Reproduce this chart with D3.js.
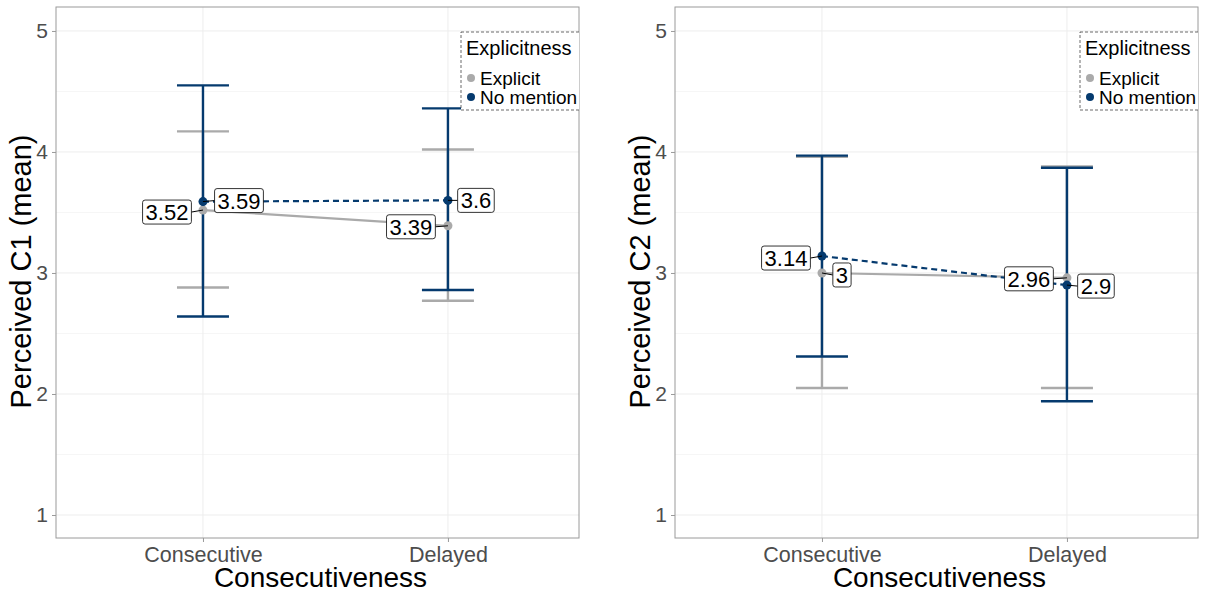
<!DOCTYPE html>
<html>
<head>
<meta charset="utf-8">
<script src="https://cdn.jsdelivr.net/npm/d3@7"></script>
<style>
  body { margin: 0; background: #fff; }
  svg { font-family: "Liberation Sans", Arial, sans-serif; }
</style>
</head>
<body>
<svg id="chart" width="1207" height="594"></svg>
<script>
// categories / groups
var categories = ["Consecutive", "Delayed"]
var groups = ["Explicit", "No mention"]
var yTicks = [1, 2, 3, 4, 5]
var panelTitles = ["Perceived C1 (mean)", "Perceived C2 (mean)"]

// C1 panel
var c1Explicit = [3.52, 3.39]
var c1ExplicitLow = [2.88, 2.77]
var c1ExplicitHigh = [4.17, 4.02]
var c1NoMention = [3.59, 3.6]
var c1NoMentionLow = [2.64, 2.86]
var c1NoMentionHigh = [4.55, 4.36]

// C2 panel
var c2Explicit = [3, 2.96]
var c2ExplicitLow = [2.05, 2.05]
var c2ExplicitHigh = [3.96, 3.88]
var c2NoMention = [3.14, 2.9]
var c2NoMentionLow = [2.31, 1.94]
var c2NoMentionHigh = [3.97, 3.87]

var colors = {"Explicit": "#aaaaaa", "No mention": "#053a6e"}

// label nudges (pixels) for the repelled labels, per panel / group / category
var labelNudge = [
  {"Explicit": [[-36, 2], [-37, 1]], "No mention": [[36, -1], [28, 0]]},
  {"Explicit": [[20, 2], [-38, 1]], "No mention": [[-36, 2], [29, 1]]}
]

var panelData = [
  {Explicit: {m: c1Explicit, lo: c1ExplicitLow, hi: c1ExplicitHigh},
   "No mention": {m: c1NoMention, lo: c1NoMentionLow, hi: c1NoMentionHigh}},
  {Explicit: {m: c2Explicit, lo: c2ExplicitLow, hi: c2ExplicitHigh},
   "No mention": {m: c2NoMention, lo: c2NoMentionLow, hi: c2NoMentionHigh}}
]

var svg = d3.select("#chart")
var panelLefts = [56, 675]
var plotTop = 7, width = 523, height = 531

var y = d3.scaleLinear().domain([0.81, 5.198]).range([height, 0])
var x = d3.scaleLinear().domain([0.4, 2.535]).range([0, width])

panelData.forEach(function(pd, pi) {
  var g = svg.append("g").attr("transform", "translate(" + panelLefts[pi] + "," + plotTop + ")")

  g.append("clipPath").attr("id", "clip" + pi)
    .append("rect").attr("x", -405).attr("y", -25).attr("width", width).attr("height", height)

  // grid
  var minor = [1.5, 2.5, 3.5, 4.5]
  g.selectAll(".minor").data(minor).enter().append("line")
    .attr("x1", 0).attr("x2", width)
    .attr("y1", function(d) { return y(d) }).attr("y2", function(d) { return y(d) })
    .attr("stroke", "#f4f4f4").attr("stroke-width", 0.8)
  g.selectAll(".major").data(yTicks).enter().append("line")
    .attr("x1", 0).attr("x2", width)
    .attr("y1", function(d) { return y(d) }).attr("y2", function(d) { return y(d) })
    .attr("stroke", "#ededed").attr("stroke-width", 1)
  g.selectAll(".vgrid").data(categories).enter().append("line")
    .attr("x1", function(d, i) { return x(i + 1) }).attr("x2", function(d, i) { return x(i + 1) })
    .attr("y1", 0).attr("y2", height)
    .attr("stroke", "#ededed").attr("stroke-width", 1)

  // border
  g.append("rect").attr("width", width).attr("height", height)
    .attr("fill", "none").attr("stroke", "#9a9a9a").attr("stroke-width", 1)

  // y axis
  var yAxis = g.append("g").call(d3.axisLeft(y).tickValues(yTicks).tickSize(4).tickFormat(d3.format("d")))
  yAxis.select(".domain").remove()
  yAxis.selectAll("line").attr("stroke", "#9a9a9a")
  yAxis.selectAll("text").attr("font-size", 21).attr("fill", "#4d4d4d").attr("dx", "-1px")

  // x axis
  var xAxis = g.append("g").attr("transform", "translate(0," + height + ")")
    .call(d3.axisBottom(x).tickValues([1, 2]).tickSize(4).tickFormat(function(d) { return categories[d - 1] }))
  xAxis.select(".domain").remove()
  xAxis.selectAll("line").attr("stroke", "#9a9a9a")
  xAxis.selectAll("text").attr("font-size", 21.5).attr("fill", "#4d4d4d").attr("dy", "0.78em")

  // titles
  g.append("text").attr("x", width / 2 + 3).attr("y", height + 49)
    .attr("text-anchor", "middle").attr("font-size", 28).text("Consecutiveness")
  g.append("text").attr("transform", "translate(-25," + (height / 2 - 1) + ") rotate(-90)")
    .attr("text-anchor", "middle").attr("font-size", 29).text(panelTitles[pi])

  var line = d3.line().x(function(d, i) { return x(i + 1) }).y(function(d) { return y(d) })

  groups.forEach(function(grp) {
    var s = pd[grp]
    var col = colors[grp]
    g.append("path").datum(s.m).attr("d", line).attr("fill", "none")
      .attr("stroke", col).attr("stroke-width", 2.2)
      .attr("stroke-dasharray", grp == "No mention" ? "6,4" : null)
  })

  groups.forEach(function(grp) {
    var s = pd[grp]
    var col = colors[grp]
    s.m.forEach(function(v, i) {
      var cx = x(i + 1)
      var eb = g.append("g").attr("stroke", col).attr("stroke-width", 2.4)
      eb.append("line").attr("x1", cx).attr("x2", cx).attr("y1", y(s.lo[i])).attr("y2", y(s.hi[i]))
      eb.append("line").attr("x1", cx - 26).attr("x2", cx + 26).attr("y1", y(s.lo[i])).attr("y2", y(s.lo[i]))
      eb.append("line").attr("x1", cx - 26).attr("x2", cx + 26).attr("y1", y(s.hi[i])).attr("y2", y(s.hi[i]))
    })
  })

  groups.forEach(function(grp) {
    var s = pd[grp]
    g.selectAll(null).data(s.m).enter().append("circle")
      .attr("cx", function(d, i) { return x(i + 1) }).attr("cy", function(d) { return y(d) })
      .attr("r", 4.5).attr("fill", colors[grp])
  })

  // labels
  groups.forEach(function(grp) {
    var s = pd[grp]
    s.m.forEach(function(v, i) {
      var px = x(i + 1), py = y(v)
      var nd = labelNudge[pi][grp][i]
      var lx = px + nd[0], ly = py + nd[1]
      var lg = g.append("g")
      var t = lg.append("text").attr("x", lx).attr("y", ly).attr("dy", "0.36em")
        .attr("text-anchor", "middle").attr("font-size", 22).attr("fill", "#000").text(String(v))
      var bb = t.node().getBBox()
      var bx = bb.x - 3, bw = bb.width + 6, by = ly - 12, bh = 24
      // segment from point to box edge
      var ex = nd[0] > 0 ? bx : bx + bw
      lg.insert("line", "text").attr("x1", px).attr("y1", py).attr("x2", ex).attr("y2", ly)
        .attr("stroke", "#000").attr("stroke-width", 1)
      lg.insert("rect", "text").attr("x", bx).attr("y", by).attr("width", bw).attr("height", bh)
        .attr("rx", 2.5).attr("fill", "#fff").attr("stroke", "#000").attr("stroke-width", 0.8)
    })
  })

  // legend (clipped at panel edge)
  var lgd = g.append("g").attr("transform", "translate(405,25)")
    .append("g").attr("clip-path", "url(#clip" + pi + ")")
  lgd.append("rect").attr("width", 130).attr("height", 78).attr("fill", "#fff")
    .attr("stroke", "#444").attr("stroke-width", 0.8).attr("stroke-dasharray", "3,2")
  lgd.append("text").attr("x", 5).attr("y", 23).attr("font-size", 20).text("Explicitness")
  groups.forEach(function(grp, k) {
    lgd.append("circle").attr("cx", 10).attr("cy", 46 + k * 19).attr("r", 4).attr("fill", colors[grp])
    lgd.append("text").attr("x", 19).attr("y", 46 + k * 19).attr("dy", "0.36em")
      .attr("font-size", 19).text(grp)
  })
})
</script>
</body>
</html>
